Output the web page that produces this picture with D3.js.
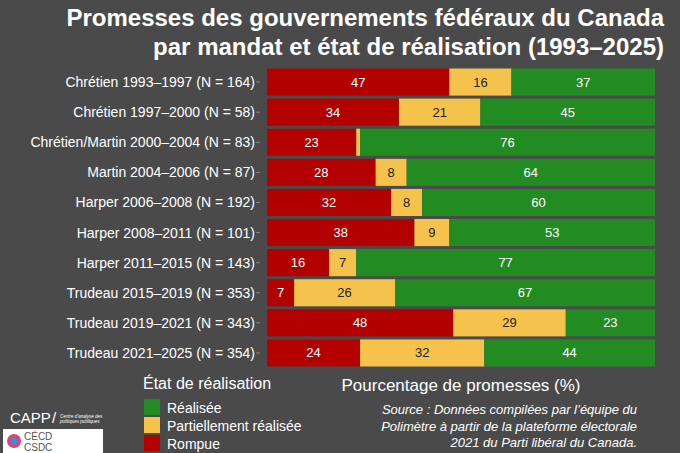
<!DOCTYPE html><html><head><meta charset="utf-8"><script src="https://cdn.jsdelivr.net/npm/d3@7"></script>
<style>body{margin:0;background:#4a4a4a}text{font-family:"Liberation Sans",Arial,sans-serif}</style></head><body><svg width="680" height="453"></svg>
<script>
const categories=["Chrétien 1993–1997 (N = 164)","Chrétien 1997–2000 (N = 58)","Chrétien/Martin 2000–2004 (N = 83)","Martin 2004–2006 (N = 87)","Harper 2006–2008 (N = 192)","Harper 2008–2011 (N = 101)","Harper 2011–2015 (N = 143)","Trudeau 2015–2019 (N = 353)","Trudeau 2019–2021 (N = 343)","Trudeau 2021–2025 (N = 354)"];
const rompue=[47,34,23,28,32,38,16,7,48,24];
const partielle=[16,21,1,8,8,9,7,26,29,32];
const realisee=[37,45,76,64,60,53,77,67,23,44];
const seriesNames=["Rompue","Partiellement réalisée","Réalisée"];
const colors={"Rompue":"#b30000","Partiellement réalisée":"#f5c24c","Réalisée":"#228b22"};
const svg=d3.select("svg");
svg.append("rect").attr("width",680).attr("height",453).attr("fill","#4a4a4a");
const x=d3.scaleLinear().domain([0,100]).range([267,655]);
const y=d3.scaleBand().domain(categories).range([67,368]).paddingInner(0.1).paddingOuter(0.05);
const rows=categories.map((c,i)=>({c,"Rompue":rompue[i],"Partiellement réalisée":partielle[i],"Réalisée":realisee[i]}));
const stack=d3.stack().keys(seriesNames)(rows);
stack.forEach(s=>{
 const g=svg.append("g");
 g.selectAll("rect").data(s).enter().append("rect").attr("x",d=>x(d[0])).attr("width",d=>x(d[1])-x(d[0])).attr("y",d=>y(d.data.c)).attr("height",y.bandwidth()).attr("fill",colors[s.key]);
 g.selectAll("text").data(s.filter(d=>d[1]-d[0]>=5)).enter().append("text").attr("x",d=>x((d[0]+d[1])/2)).attr("y",d=>y(d.data.c)+y.bandwidth()/2+4.5).attr("text-anchor","middle").attr("font-size",13).attr("fill",s.key==="Partiellement réalisée"?"#222":"#fff").text(d=>d[1]-d[0]);
});
svg.append("g").selectAll("text").data(categories).enter().append("text").attr("x",255).attr("y",d=>y(d)+y.bandwidth()/2+5).attr("text-anchor","end").attr("font-size",14).attr("fill","#fff").text(d=>d);
svg.append("g").attr("transform","translate(260,0)").call(d3.axisLeft(y).tickSize(4).tickFormat("")).call(g=>{g.select(".domain").remove();g.selectAll("line").attr("stroke","#888");});
const t=svg.append("g").attr("font-weight","bold").attr("font-size",24).attr("fill","#fff").attr("text-anchor","end");
t.append("text").attr("x",664).attr("y",26).text("Promesses des gouvernements fédéraux du Canada");
t.append("text").attr("x",664).attr("y",55).text("par mandat et état de réalisation (1993–2025)");
svg.append("text").attr("x",143).attr("y",389).attr("font-size",16).attr("fill","#fff").text("État de réalisation");
["Réalisée","Partiellement réalisée","Rompue"].forEach((k,i)=>{
 svg.append("rect").attr("x",144).attr("y",399+i*18).attr("width",16).attr("height",16).attr("fill",colors[k]);
 svg.append("text").attr("x",167).attr("y",413+i*18).attr("font-size",14).attr("fill","#fff").text(k);
});
svg.append("text").attr("x",461).attr("y",391).attr("text-anchor","middle").attr("font-size",17).attr("fill","#fff").text("Pourcentage de promesses (%)");
["Source : Données compilées par l’équipe du","Polimètre à partir de la plateforme électorale","2021 du Parti libéral du Canada."].forEach((s,i)=>{
 svg.append("text").attr("x",637).attr("y",414+i*16.5).attr("text-anchor","end").attr("font-size",13).attr("font-style","italic").attr("fill","#fff").text(s);
});
svg.append("text").attr("x",10).attr("y",423).attr("font-size",15).attr("fill","#fff").text("CAPP");
svg.append("text").attr("x",52).attr("y",423).attr("font-size",15).attr("fill","#fff").text("/");
svg.append("text").attr("x",60).attr("y",418).attr("font-size",4.5).attr("font-style","italic").attr("fill","#fff").text("Centre d’analyse des");
svg.append("text").attr("x",60).attr("y",423).attr("font-size",4.5).attr("font-style","italic").attr("fill","#fff").text("politiques publiques");
svg.append("rect").attr("x",3).attr("y",429).attr("width",100).attr("height",24).attr("fill","#fff");
svg.append("circle").attr("cx",14).attr("cy",441).attr("r",7).attr("fill","#e0407a");
svg.append("circle").attr("cx",14).attr("cy",441).attr("r",3.5).attr("fill","#3a8fd0");
svg.append("text").attr("x",24).attr("y",440).attr("font-size",10).attr("fill","#555").text("CÉCD");
svg.append("text").attr("x",24).attr("y",451).attr("font-size",10).attr("fill","#555").text("CSDC");
</script></body></html>
